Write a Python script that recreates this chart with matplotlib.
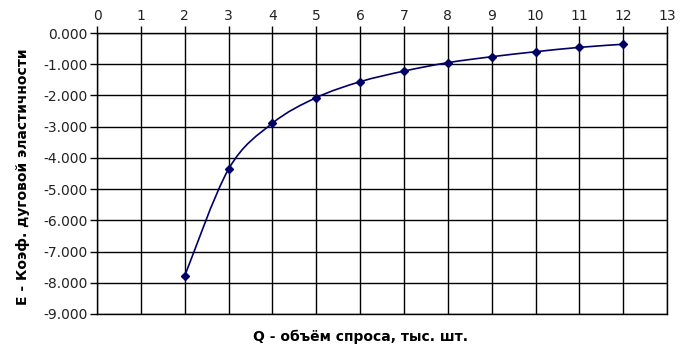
import numpy as np
import matplotlib
matplotlib.use("Agg")
import matplotlib.pyplot as plt
from matplotlib.path import Path
from matplotlib.patches import PathPatch

# Q, thousand units
q_values = [2, 3, 4, 5, 6, 7, 8, 9, 10, 11, 12]
# arc elasticity coefficient
e_values = [-7.78, -4.36, -2.89, -2.07, -1.56, -1.22, -0.95, -0.76, -0.60, -0.46, -0.36]

x_ticks = list(range(0, 14))
y_ticks = list(range(-9, 1))

line_color = "#000066"


def smooth_path(xs, ys, tension=1 / 6):
    # Bezier path through the points, similar to a spreadsheet "smoothed line"
    xs = np.asarray(xs, float)
    ys = np.asarray(ys, float)
    verts = [(xs[0], ys[0])]
    codes = [Path.MOVETO]
    n = len(xs)
    for i in range(n - 1):
        p0 = np.array([xs[max(i - 1, 0)], ys[max(i - 1, 0)]])
        p1 = np.array([xs[i], ys[i]])
        p2 = np.array([xs[i + 1], ys[i + 1]])
        p3 = np.array([xs[min(i + 2, n - 1)], ys[min(i + 2, n - 1)]])
        c1 = p1 + (p2 - p0) * tension
        c2 = p2 - (p3 - p1) * tension
        verts += [tuple(c1), tuple(c2), tuple(p2)]
        codes += [Path.CURVE4] * 3
    return Path(verts, codes)


fig = plt.figure(figsize=(6.91, 3.53), dpi=100)
ax = fig.add_axes([0.1404, 0.1105, 0.825, 0.796])

ax.set_xlim(0, 13)
ax.set_ylim(-9, 0)
ax.set_xticks(x_ticks)
ax.set_yticks(y_ticks)
ax.set_yticklabels(["%.3f" % v if v != 0 else "0.000" for v in y_ticks])

ax.grid(True, color="black", linewidth=1.0)
ax.set_axisbelow(True)
for side in ["top", "right", "bottom", "left"]:
    ax.spines[side].set_color("black")
    ax.spines[side].set_linewidth(1.0)

ax.xaxis.tick_top()
ax.tick_params(axis="x", which="both", top=True, bottom=False, length=5,
               width=1, direction="out", labelsize=10, pad=2, colors="black")
ax.tick_params(axis="y", which="both", left=True, length=5, width=1,
               direction="out", labelsize=10, pad=2, colors="black")
for lbl in ax.get_xticklabels() + ax.get_yticklabels():
    lbl.set_color("#222222")

patch = PathPatch(smooth_path(q_values, e_values), facecolor="none",
                  edgecolor=line_color, linewidth=1.2, zorder=3)
ax.add_patch(patch)
ax.plot(q_values, e_values, linestyle="none", marker="D", markersize=4.5,
        color=line_color, zorder=4)

fig.text(0.522, 0.045, "Q - объём спроса, тыс. шт.", ha="center", va="center",
         fontsize=10, fontweight="bold")
fig.text(0.033, 0.5, "E - Коэф. дуговой эластичности", ha="center", va="center",
         rotation=90, fontsize=10, fontweight="bold")

fig.savefig("out.png", dpi=100)
